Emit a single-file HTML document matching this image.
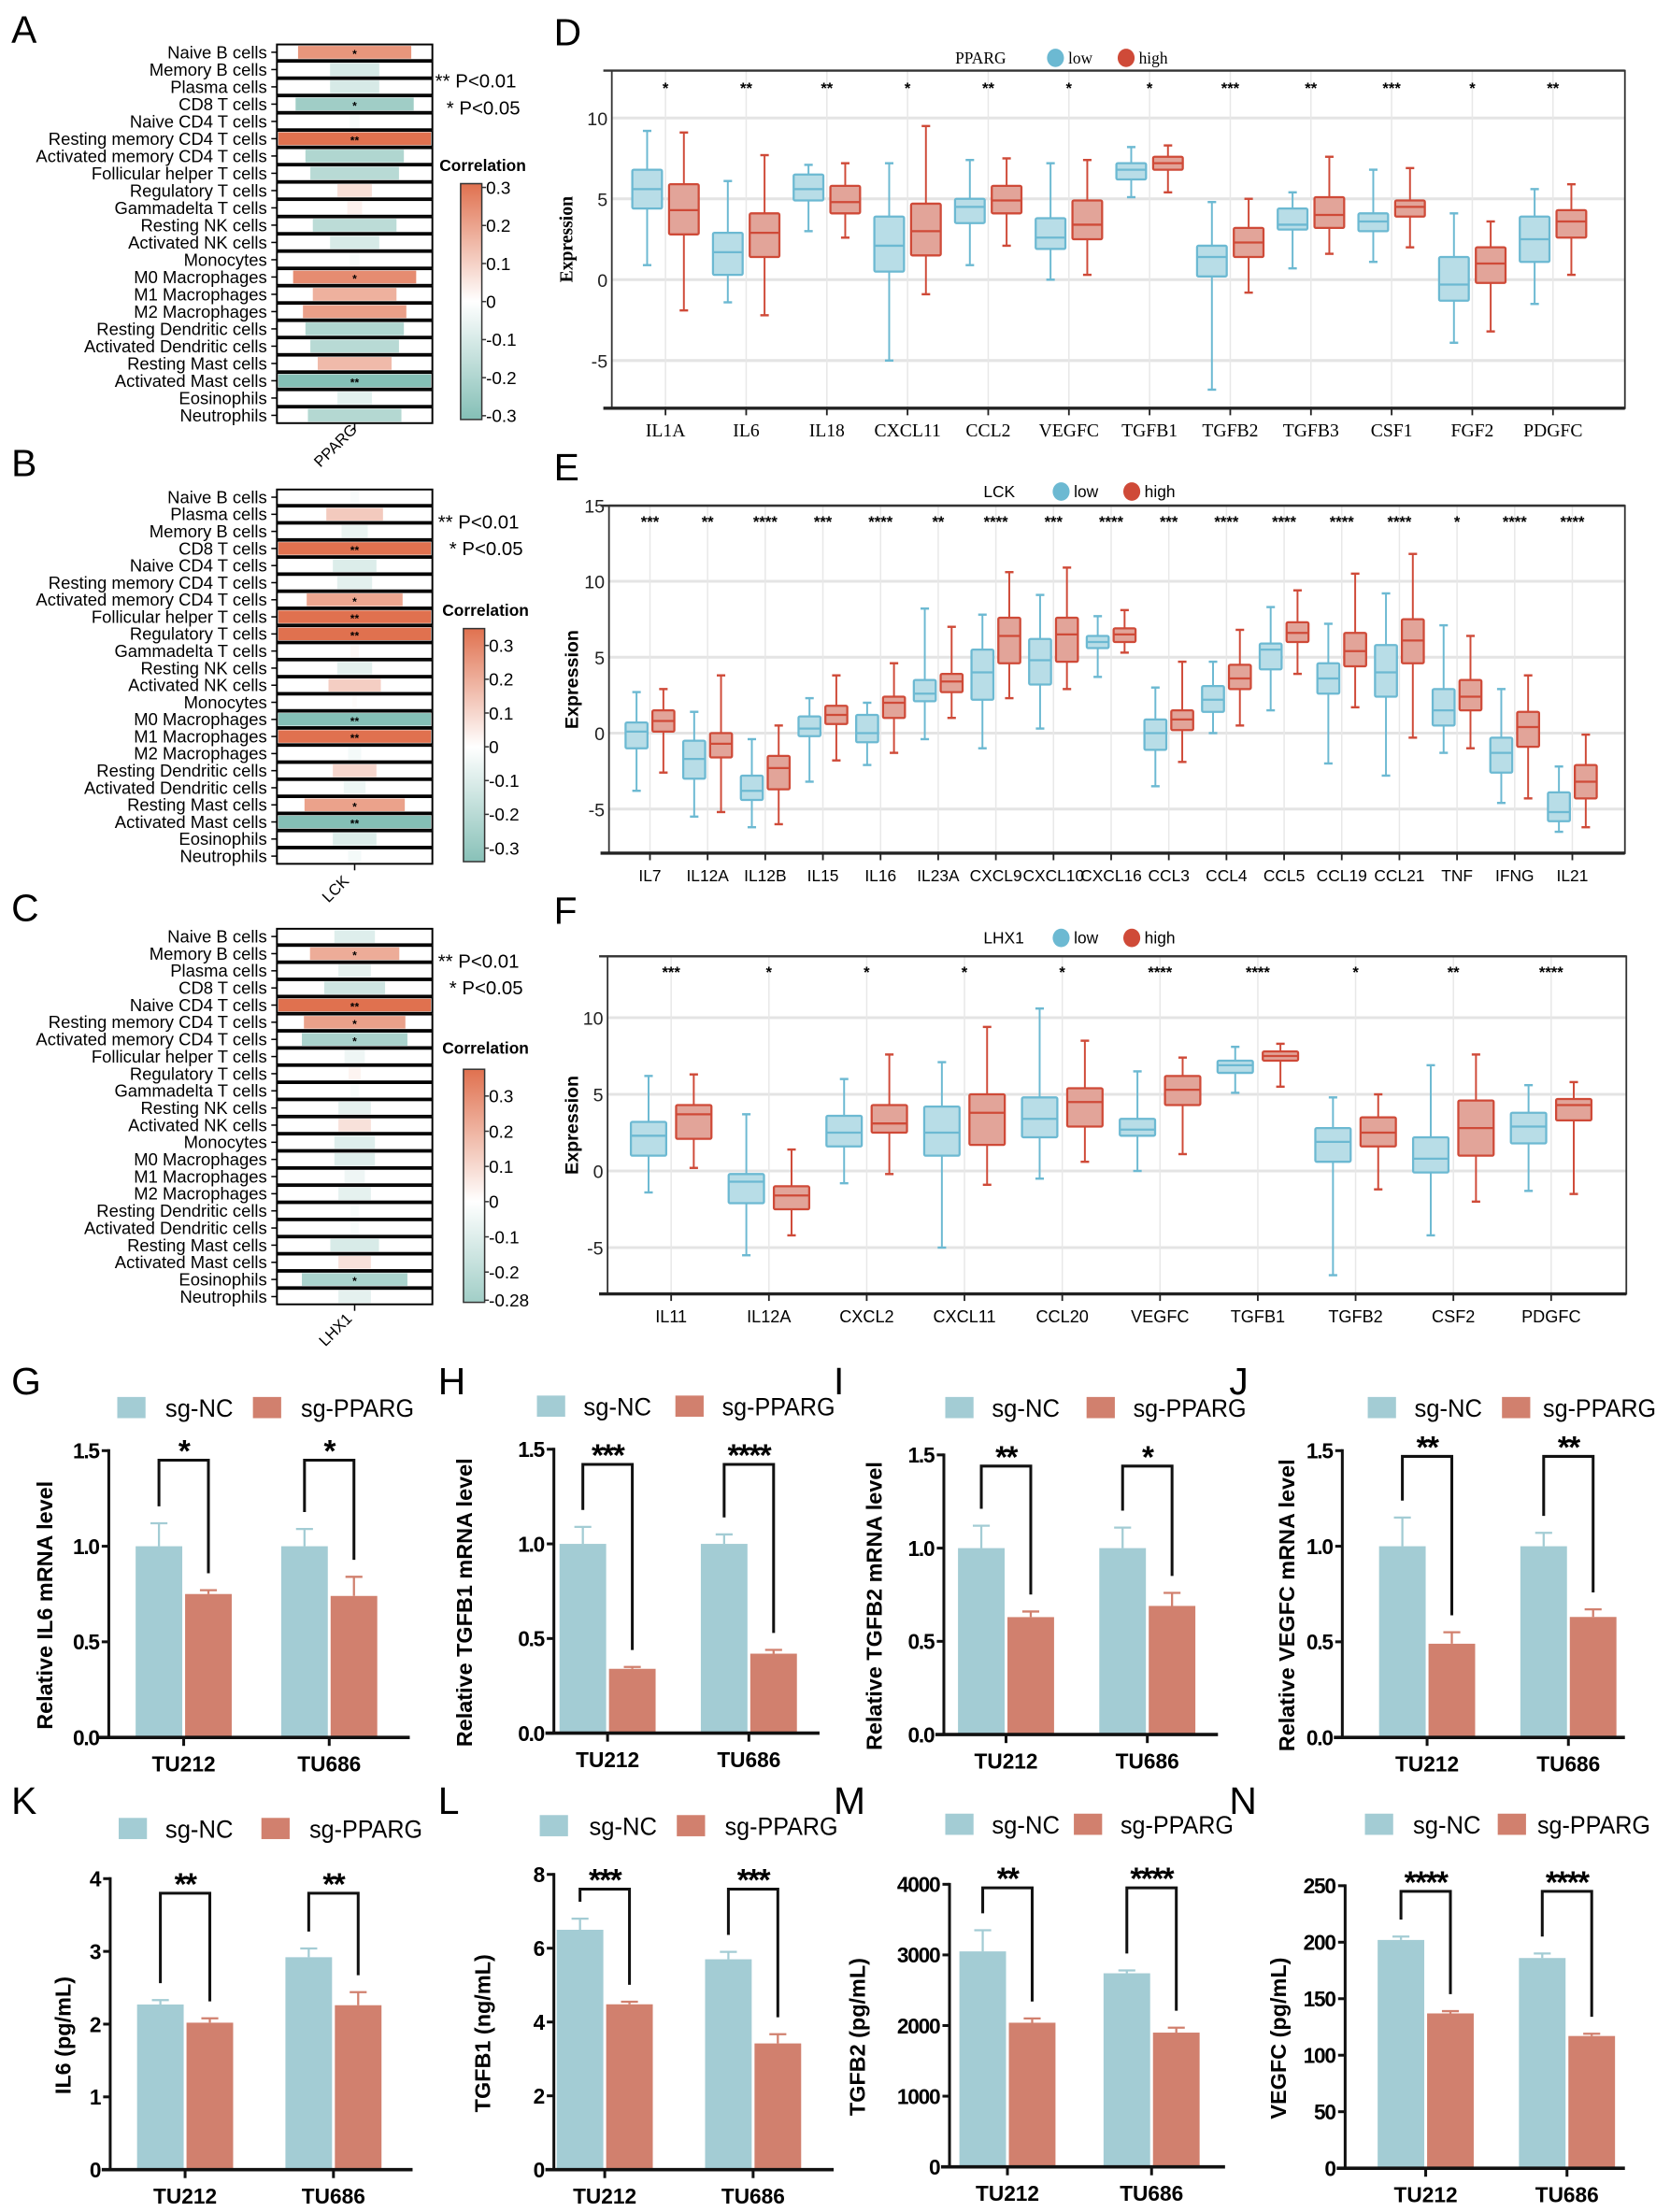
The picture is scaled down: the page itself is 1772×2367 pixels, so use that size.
<!DOCTYPE html>
<html>
<head>
<meta charset="utf-8">
<style>
html,body{margin:0;padding:0;background:#fff;}
svg{display:block;}
</style>
</head>
<body>
<svg id="fig" xmlns="http://www.w3.org/2000/svg" width="1772" height="2367" viewBox="0 0 1172 1566" preserveAspectRatio="none"></svg>
<script>
// ---------- Heatmap data ----------
const cellTypesA = ["Naive B cells","Memory B cells","Plasma cells","CD8 T cells","Naive CD4 T cells","Resting memory CD4 T cells","Activated memory CD4 T cells","Follicular helper T cells","Regulatory T cells","Gammadelta T cells","Resting NK cells","Activated NK cells","Monocytes","M0 Macrophages","M1 Macrophages","M2 Macrophages","Resting Dendritic cells","Activated Dendritic cells","Resting Mast cells","Activated Mast cells","Eosinophils","Neutrophils"];
const corrA = [0.23,-0.1,-0.1,-0.24,-0.02,0.31,-0.2,-0.18,0.07,0.03,-0.17,-0.1,-0.02,0.25,0.17,0.21,-0.2,-0.18,0.15,-0.31,-0.07,-0.19];
const sigA = ["*","","","*","","**","","","","","","","","*","","","","","","**","",""];
const cellTypesB = ["Naive B cells","Plasma cells","Memory B cells","CD8 T cells","Naive CD4 T cells","Resting memory CD4 T cells","Activated memory CD4 T cells","Follicular helper T cells","Regulatory T cells","Gammadelta T cells","Resting NK cells","Activated NK cells","Monocytes","M0 Macrophages","M1 Macrophages","M2 Macrophages","Resting Dendritic cells","Activated Dendritic cells","Resting Mast cells","Activated Mast cells","Eosinophils","Neutrophils"];
const corrB = [-0.02,0.13,-0.06,0.35,-0.1,-0.08,0.22,0.35,0.35,0.02,-0.08,0.12,0.01,-0.35,0.35,-0.03,0.1,-0.05,0.23,-0.35,-0.1,-0.03];
const sigB = ["","","","**","","","*","**","**","","","","","**","**","","","","*","**","",""];
const cellTypesC = cellTypesA.slice();
const corrC = [-0.1,0.22,-0.08,-0.15,0.376,0.25,-0.26,-0.05,0.03,-0.02,-0.08,0.08,-0.1,-0.1,-0.05,-0.08,-0.02,-0.02,-0.12,0.08,-0.26,-0.08];
const sigC = ["","*","","","**","*","*","","","","","","","","","","","","","","*",""];
const cbTicksA = [0.3,0.2,0.1,0,-0.1,-0.2,-0.3];
const cbTicksB = [0.3,0.2,0.1,0,-0.1,-0.2,-0.3];
const cbTicksC = [0.3,0.2,0.1,0,-0.1,-0.2,-0.28];

// ---------- Box plot data: [whiskerLow, q1, median, q3, whiskerHigh] ----------
const genesD = ["IL1A","IL6","IL18","CXCL11","CCL2","VEGFC","TGFB1","TGFB2","TGFB3","CSF1","FGF2","PDGFC"];
const lowD = [[0.9,4.4,5.6,6.8,9.2],[-1.4,0.3,1.7,2.9,6.1],[3.0,4.9,5.6,6.5,7.1],[-5.0,0.5,2.1,3.9,7.2],[0.9,3.5,4.5,5.0,7.4],[0,1.9,2.6,3.8,7.2],[5.1,6.2,6.8,7.2,8.2],[-6.8,0.2,1.4,2.1,4.8],[0.7,3.1,3.4,4.4,5.4],[1.1,3.0,3.6,4.1,6.8],[-3.9,-1.3,-0.3,1.4,4.1],[-1.5,1.1,2.5,3.9,5.6]];
const highD = [[-1.9,2.8,4.3,5.9,9.1],[-2.2,1.4,2.9,4.1,7.7],[2.6,4.1,4.8,5.8,7.2],[-0.9,1.5,3.0,4.7,9.5],[2.1,4.1,4.9,5.8,7.5],[0.3,2.5,3.4,4.9,7.4],[5.4,6.8,7.2,7.6,8.3],[-0.8,1.4,2.3,3.2,5.0],[1.6,3.2,4.0,5.1,7.6],[2.0,3.9,4.5,4.9,6.9],[-3.2,-0.2,1.0,2.0,3.6],[0.3,2.6,3.6,4.3,5.9]];
const sigD = ["*","**","**","*","**","*","*","***","**","***","*","**"];
const ticksD = [10,5,0,-5];

const genesE = ["IL7","IL12A","IL12B","IL15","IL16","IL23A","CXCL9","CXCL10","CXCL16","CCL3","CCL4","CCL5","CCL19","CCL21","TNF","IFNG","IL21"];
const lowE = [[-3.8,-1.0,0.1,0.7,2.7],[-5.5,-3.0,-1.7,-0.5,1.4],[-6.2,-4.4,-3.8,-2.8,-0.4],[-3.2,-0.2,0.3,1.1,2.3],[-2.1,-0.6,0,1.2,2.0],[-0.4,2.1,2.6,3.5,8.2],[-1.0,2.2,4.0,5.5,7.8],[0.3,3.2,4.8,6.2,9.1],[3.7,5.6,6.0,6.4,7.7],[-3.5,-1.1,0,0.9,3.0],[0,1.4,2.2,3.1,4.7],[1.5,4.2,5.5,5.9,8.3],[-2.0,2.6,3.6,4.6,7.2],[-2.8,2.4,4.0,5.8,9.2],[-1.3,0.5,1.5,2.9,7.1],[-4.6,-2.6,-1.3,-0.3,2.9],[-6.5,-5.8,-5.2,-3.9,-2.2]];
const highE = [[-2.6,0.1,0.8,1.5,2.9],[-5.2,-1.6,-0.7,0,3.8],[-6.0,-3.7,-2.3,-1.5,0.5],[-1.8,0.6,1.2,1.8,3.8],[-1.3,1.0,2.0,2.4,4.6],[1.0,2.7,3.4,3.9,7.0],[2.3,4.6,6.4,7.6,10.6],[2.9,4.7,6.5,7.6,10.9],[5.3,6.0,6.5,6.9,8.1],[-1.9,0.2,0.9,1.5,4.7],[0.5,2.9,3.6,4.5,6.8],[3.9,6.0,6.6,7.3,9.4],[1.7,4.4,5.4,6.6,10.5],[-0.3,4.6,6.1,7.5,11.8],[-1.0,1.5,2.4,3.5,6.4],[-4.3,-0.9,0.4,1.4,3.8],[-6.2,-4.3,-3.2,-2.1,-0.1]];
const sigE = ["***","**","****","***","****","**","****","***","****","***","****","****","****","****","*","****","****"];
const ticksE = [15,10,5,0,-5];

const genesF = ["IL11","IL12A","CXCL2","CXCL11","CCL20","VEGFC","TGFB1","TGFB2","CSF2","PDGFC"];
const lowF = [[-1.4,1.0,2.3,3.2,6.2],[-5.5,-2.1,-0.7,-0.2,3.7],[-0.8,1.6,2.5,3.6,6.0],[-5.0,1.0,2.5,4.2,7.1],[-0.5,2.2,3.4,4.8,10.6],[0,2.3,2.7,3.4,6.5],[5.1,6.4,6.9,7.2,8.1],[-6.8,0.6,1.9,2.8,4.8],[-4.2,-0.1,0.8,2.2,6.9],[-1.3,1.8,2.9,3.8,5.6]];
const highF = [[0.2,2.1,3.7,4.3,6.3],[-4.2,-2.5,-1.6,-1.0,1.4],[-0.2,2.5,3.1,4.3,7.6],[-0.9,1.7,3.8,5.0,9.4],[0.6,2.9,4.5,5.4,8.5],[1.1,4.3,5.3,6.2,7.4],[5.5,7.2,7.5,7.8,8.3],[-1.2,1.6,2.5,3.5,5.0],[-2.0,1.0,2.8,4.6,7.6],[-1.5,3.3,4.3,4.7,5.8]];
const sigF = ["***","*","*","*","*","****","****","*","**","****"];
const ticksF = [10,5,0,-5];

// ---------- Bar chart data ----------
const lines = ["TU212","TU686"];
const ncG = [1.0,1.0], ncErrG = [0.12,0.09], ppG = [0.75,0.74], ppErrG = [0.02,0.10], sigG = ["*","*"];
const ncH = [1.0,1.0], ncErrH = [0.09,0.05], ppH = [0.34,0.42], ppErrH = [0.01,0.02], sigH = ["***","****"];
const ncI = [1.0,1.0], ncErrI = [0.12,0.11], ppI = [0.63,0.69], ppErrI = [0.03,0.07], sigI = ["**","*"];
const ncJ = [1.0,1.0], ncErrJ = [0.15,0.07], ppJ = [0.49,0.63], ppErrJ = [0.06,0.04], sigJ = ["**","**"];
const ncK = [2.27,2.92], ncErrK = [0.06,0.12], ppK = [2.02,2.26], ppErrK = [0.06,0.18], sigK = ["**","**"];
const ncL = [6.5,5.7], ncErrL = [0.3,0.2], ppL = [4.48,3.42], ppErrL = [0.07,0.25], sigL = ["***","***"];
const ncM = [3050,2740], ncErrM = [300,40], ppM = [2040,1900], ppErrM = [60,70], sigM = ["**","****"];
const ncN = [202,186], ncErrN = [3,4], ppN = [137,117], ppErrN = [2,2], sigN = ["****","****"];
const ticksMRNA = [0,0.5,1.0,1.5];
const ticksK = [0,1,2,3,4];
const ticksL = [0,2,4,6,8];
const ticksM = [0,1000,2000,3000,4000];
const ticksN = [0,50,100,150,200,250];

// ---------- helpers ----------
const NS = "http://www.w3.org/2000/svg";
const svg = document.getElementById("fig");
const SANS = '"Liberation Sans", Arial, sans-serif';
const SERIF = '"Liberation Serif", "Times New Roman", serif';
function mk(tag, attrs, parent){
  const e = document.createElementNS(NS, tag);
  for (const k in attrs) e.setAttribute(k, attrs[k]);
  (parent || svg).appendChild(e);
  return e;
}
function tx(x, y, s, o, parent){
  const e = mk("text", Object.assign({x:x, y:y, "font-size":12, "font-family":SANS, fill:"#000"}, o || {}), parent);
  e.textContent = s;
  return e;
}
function grp(name){
  const g = mk("g", {});
  
  
  return g;
}
function mix(a, b, t){
  const pa = [parseInt(a.substr(1,2),16),parseInt(a.substr(3,2),16),parseInt(a.substr(5,2),16)];
  const pb = [parseInt(b.substr(1,2),16),parseInt(b.substr(3,2),16),parseInt(b.substr(5,2),16)];
  return "rgb(" + pa.map((v,i)=>Math.round(v+(pb[i]-v)*t)).join(",") + ")";
}
function corrColor(r, m){
  const t = Math.max(-1, Math.min(1, r / m));
  return t >= 0 ? mix("#ffffff", "#e0714f", t) : mix("#ffffff", "#84bfb6", -t);
}

// ---------- panel letters ----------
const letters = [["A",8,30],["D",392,32],["B",8,337],["E",392,340],["C",8,652],["F",392,654],["G",8,987],["H",310,987],["I",590,987],["J",870,987],["K",8,1284],["L",310,1284],["M",590,1284],["N",870,1284]];
letters.forEach(function(l){
  const t = tx(l[1], l[2], l[0], {"font-size":27});
  
  
});

// ---------- heatmaps ----------
function heat(p){
  const g = grp(p.name);
  const x0 = p.x0, w = p.x1 - p.x0;
  p.types.forEach(function(name, i){
    const cy = p.y0 + i * p.step;
    const cell = mk("rect", {x:x0, y:cy - p.step/2 + 0.6, width:w, height:p.step - 1.2, fill:"#fff", stroke:"#000", "stroke-width":1.3}, g);
    
    
    const r = p.corr[i];
    const bw = Math.min(1, Math.abs(r) / p.wmax) * (w - 2);
    const bar = mk("rect", {x:x0 + w/2 - bw/2, y:cy - p.step/2 + 1.6, width:bw, height:p.step - 3.2, fill:corrColor(r, p.cmax)}, g);
    
    
    const tk = mk("line", {x1:x0 - 4, x2:x0, y1:cy, y2:cy, stroke:"#000", "stroke-width":1}, g);
    
    
    const lb = tx(x0 - 7, cy + 4.2, name, {"text-anchor":"end", "font-size":12.2}, g);
    
    
    if (p.sig[i]) {
      const s = tx(x0 + w/2, cy + 4, p.sig[i], {"text-anchor":"middle", "font-size":8, "font-weight":"bold"}, g);
      
      
    }
  });
  const bottom = p.y0 + (p.types.length - 0.5) * p.step;
  const bt = mk("line", {x1:x0 + w/2, x2:x0 + w/2, y1:bottom, y2:bottom + 4, stroke:"#000", "stroke-width":1}, g);
  
  
  const gl = tx(p.geneX, p.geneY, p.gene, {"text-anchor":"middle", "font-size":11, transform:"rotate(-45 " + p.geneX + " " + p.geneY + ")"}, g);
  
  
  const l1 = tx(p.legX, p.legY, "** P<0.01", {"font-size":13.5}, g);
  
  
  const l2 = tx(p.legX + 8, p.legY + 19, "* P<0.05", {"font-size":13.5}, g);
  
  
  const ct = tx(p.cb.x - 15, p.cb.titleY, "Correlation", {"font-size":11.5, "font-weight":"bold"}, g);
  
  
  const gid = "grad-" + p.name;
  const defs = mk("defs", {}, g);
  const lg = mk("linearGradient", {id:gid, x1:0, y1:0, x2:0, y2:1}, defs);
  const zeroFrac = p.cb.vtop / (p.cb.vtop - p.cb.vbot);
  mk("stop", {offset:0, "stop-color":corrColor(p.cb.vtop, p.cmax)}, lg);
  mk("stop", {offset:zeroFrac, "stop-color":"#ffffff"}, lg);
  mk("stop", {offset:1, "stop-color":corrColor(p.cb.vbot, p.cmax)}, lg);
  const cb = mk("rect", {x:p.cb.x, y:p.cb.top, width:15, height:p.cb.bot - p.cb.top, fill:"url(#" + gid + ")", stroke:"#333", "stroke-width":1}, g);
  
  
  const cy = function(v){ return p.cb.top + (p.cb.vtop - v) / (p.cb.vtop - p.cb.vbot) * (p.cb.bot - p.cb.top); };
  p.cb.ticks.forEach(function(v){
    const yy = cy(v);
    const t1 = mk("line", {x1:p.cb.x + 15, x2:p.cb.x + 18, y1:yy, y2:yy, stroke:"#333", "stroke-width":1}, g);
    
    
    const t2 = tx(p.cb.x + 18, yy + 4.5, String(v), {"font-size":12.5}, g);
    
    
  });
}
heat({name:"heatmap-pparg", types:cellTypesA, corr:corrA, sig:sigA, x0:196, x1:306, y0:37, step:12.24, wmax:0.31, cmax:0.31, gene:"PPARG", geneX:240, geneY:318, legX:308, legY:62, cb:{x:326, top:130, bot:297, vtop:0.31, vbot:-0.31, ticks:cbTicksA, titleY:121}});
heat({name:"heatmap-lck", types:cellTypesB, corr:corrB, sig:sigB, x0:196, x1:306, y0:352, step:12.1, wmax:0.35, cmax:0.35, gene:"LCK", geneX:240, geneY:632, legX:310, legY:374, cb:{x:328, top:445, bot:610, vtop:0.35, vbot:-0.34, ticks:cbTicksB, titleY:436}});
heat({name:"heatmap-lhx1", types:cellTypesC, corr:corrC, sig:sigC, x0:196, x1:306, y0:663, step:12.14, wmax:0.376, cmax:0.376, gene:"LHX1", geneX:240, geneY:944, legX:310, legY:685, cb:{x:328, top:757, bot:922, vtop:0.376, vbot:-0.286, ticks:cbTicksC, titleY:746}});

// ---------- box plots ----------
function boxes(p){
  const g = grp(p.name);
  const Y = function(v){ return p.yZero - v * p.ppu; };
  const X = function(i){ return p.cx0 + i * p.cstep; };
  p.ticks.forEach(function(v){
    const gl = mk("line", {x1:p.fx0, x2:p.fx1, y1:Y(v), y2:Y(v), stroke:"#e4e4e4", "stroke-width":2}, g);
    
    
    const tl = tx(p.fx0 - 3, Y(v) + 5, String(v), {"text-anchor":"end", "font-size":13, fill:"#222"}, g);
    
    
  });
  p.genes.forEach(function(gname, i){
    const vg = mk("line", {x1:X(i), x2:X(i), y1:p.fy0, y2:p.fy1, stroke:"#e8e8e8", "stroke-width":1}, g);
    
    
  });
  const fr = mk("rect", {x:p.fx0, y:p.fy0, width:p.fx1 - p.fx0, height:p.fy1 - p.fy0, fill:"none", stroke:"#333", "stroke-width":1.2}, g);
  
  
  const ax = mk("line", {x1:p.fx0 - 6, x2:p.fx1, y1:p.fy1, y2:p.fy1, stroke:"#222", "stroke-width":2.2}, g);
  
  
  const tp = mk("line", {x1:p.fx0 - 6, x2:p.fx1, y1:p.fy0, y2:p.fy0, stroke:"#333", "stroke-width":1.6}, g);
  
  
  function drawBox(d, cx, fill, stroke, nm){
    const hw = p.bw / 2;
    const wl = mk("line", {x1:cx, x2:cx, y1:Y(d[0]), y2:Y(d[4]), stroke:stroke, "stroke-width":1.3}, g);
    
    
    [d[0], d[4]].forEach(function(v){
      const cap = mk("line", {x1:cx - 3, x2:cx + 3, y1:Y(v), y2:Y(v), stroke:stroke, "stroke-width":1.6}, g);
      
      
    });
    const bx = mk("rect", {x:cx - hw, y:Y(d[3]), width:p.bw, height:Y(d[1]) - Y(d[3]), fill:fill, stroke:stroke, "stroke-width":1.5, rx:1}, g);
    
    
    const md = mk("line", {x1:cx - hw, x2:cx + hw, y1:Y(d[2]), y2:Y(d[2]), stroke:stroke, "stroke-width":1.5}, g);
    
    
  }
  p.genes.forEach(function(gname, i){
    drawBox(p.low[i], X(i) - p.off, "#b8dde7", "#6cb9d2", "low");
    drawBox(p.high[i], X(i) + p.off, "#e2a499", "#cf4a38", "high");
    const st = tx(X(i), p.sigY, p.sig[i], {"text-anchor":"middle", "font-size":11, "font-weight":"bold"}, g);
    
    
    const tk = mk("line", {x1:X(i), x2:X(i), y1:p.fy1, y2:p.fy1 + 5, stroke:"#222", "stroke-width":1.2}, g);
    
    
    const cl = tx(X(i), p.fy1 + 20, gname, {"text-anchor":"middle", "font-size":p.catSize, "font-family":p.font}, g);
    
    
  });
  const yt = tx(p.ytX, (p.fy0 + p.fy1)/2, "Expression", {"text-anchor":"middle", "font-size":13, "font-weight":"bold", "font-family":p.font, transform:"rotate(-90 " + p.ytX + " " + (p.fy0 + p.fy1)/2 + ")"}, g);
  
  
  const lg1 = tx(p.legX, p.legY, p.gene, {"font-size":11.5, "font-family":p.font}, g);
  
  
  const c1 = mk("ellipse", {cx:p.legX + p.legGap, cy:p.legY - 4, rx:6, ry:6.5, fill:"#6cb9d2"}, g);
  
  
  const t1 = tx(p.legX + p.legGap + 9, p.legY, "low", {"font-size":11.5, "font-family":p.font}, g);
  
  
  const c2 = mk("ellipse", {cx:p.legX + p.legGap + 50, cy:p.legY - 4, rx:6, ry:6.5, fill:"#cf4a38"}, g);
  
  
  const t2 = tx(p.legX + p.legGap + 59, p.legY, "high", {"font-size":11.5, "font-family":p.font}, g);
  
  
}
boxes({name:"boxplot-pparg", genes:genesD, low:lowD, high:highD, sig:sigD, ticks:ticksD, yZero:198, ppu:11.45, fx0:433, fx1:1150, fy0:50, fy1:289, cx0:471, cstep:57.1, bw:21, off:13, sigY:66, font:SERIF, catSize:13, ytX:405, gene:"PPARG", legX:676, legY:45, legGap:71});
boxes({name:"boxplot-lck", genes:genesE, low:lowE, high:highE, sig:sigE, ticks:ticksE, yZero:519, ppu:10.75, fx0:431, fx1:1150, fy0:358, fy1:604, cx0:460, cstep:40.8, bw:15.5, off:9.5, sigY:373, font:SANS, catSize:11.5, ytX:409, gene:"LCK", legX:696, legY:352, legGap:55});
boxes({name:"boxplot-lhx1", genes:genesF, low:lowF, high:highF, sig:sigF, ticks:ticksF, yZero:829, ppu:10.85, fx0:430, fx1:1151, fy0:677, fy1:916, cx0:475, cstep:69.2, bw:25, off:16, sigY:692, font:SANS, catSize:12, ytX:409, gene:"LHX1", legX:696, legY:668, legGap:55});

// ---------- bar charts ----------
function bars(p){
  const g = grp(p.name);
  const Y = function(v){ return p.y0 - v / p.vmax * (p.y0 - p.yTop); };
  const yl = mk("line", {x1:p.ax, x2:p.ax, y1:p.yTop - 1, y2:p.y0, stroke:"#111", "stroke-width":2}, g);
  
  
  p.ticks.forEach(function(v, i){
    const t = mk("line", {x1:p.ax - 5, x2:p.ax, y1:Y(v), y2:Y(v), stroke:"#111", "stroke-width":2}, g);
    
    
    const l = tx(p.ax - 7, Y(v) + 5.5, p.tickLabels[i], {"text-anchor":"end", "font-size":15, "font-weight":"bold", "letter-spacing":-0.8}, g);
    
    
  });
  const bw = 33;
  for (let i = 0; i < 2; i++) {
    const cx = p.cats[i];
    const ncX = cx - bw - 1, ppX = cx + 1;
    const b1 = mk("rect", {x:ncX, y:Y(p.nc[i]), width:bw, height:p.y0 - Y(p.nc[i]), fill:"#a3ccd4"}, g);
    
    
    const b2 = mk("rect", {x:ppX, y:Y(p.pp[i]), width:bw, height:p.y0 - Y(p.pp[i]), fill:"#d1806e"}, g);
    
    
    const e1 = mk("path", {d:"M" + (ncX + bw/2) + " " + Y(p.nc[i]) + "V" + Y(p.nc[i] + p.ncErr[i]) + "M" + (ncX + bw/2 - 6) + " " + Y(p.nc[i] + p.ncErr[i]) + "h12", stroke:"#a3ccd4", "stroke-width":1.5, fill:"none"}, g);
    
    
    const e2 = mk("path", {d:"M" + (ppX + bw/2) + " " + Y(p.pp[i]) + "V" + Y(p.pp[i] + p.ppErr[i]) + "M" + (ppX + bw/2 - 6) + " " + Y(p.pp[i] + p.ppErr[i]) + "h12", stroke:"#d1806e", "stroke-width":1.5, fill:"none"}, g);
    
    
    const by = Y(p.bracket);
    const lx = ncX + bw/2, rx = ppX + bw/2;
    const br = mk("path", {d:"M" + lx + " " + (Y(p.nc[i] + p.ncErr[i]) - 12) + "V" + by + "H" + rx + "V" + (Y(p.pp[i] + p.ppErr[i]) - 12), stroke:"#111", "stroke-width":2, fill:"none"}, g);
    
    
    const st = tx(cx, by + 1, p.sig[i], {"text-anchor":"middle", "font-size":22, "font-weight":"bold", "letter-spacing":-1}, g);
    
    
    const xt = mk("line", {x1:cx, x2:cx, y1:p.y0, y2:p.y0 + 6, stroke:"#111", "stroke-width":2}, g);
    
    
    const xl = tx(cx, p.y0 + 24, lines[i], {"text-anchor":"middle", "font-size":15, "font-weight":"bold"}, g);
    
    
  }
  const xa = mk("line", {x1:p.xa0, x2:p.xa1, y1:p.y0, y2:p.y0, stroke:"#111", "stroke-width":2.4}, g);
  
  
  const ymid = (p.yTop + p.y0) / 2 + 8;
  const yt = tx(p.ytX, ymid, p.title, {"text-anchor":"middle", "font-size":15.5, "font-weight":"bold", transform:"rotate(-90 " + p.ytX + " " + ymid + ")"}, g);
  
  
  const s1 = mk("rect", {x:p.sq[0], y:p.legY - 13, width:20, height:15, fill:"#a3ccd4"}, g);
  
  
  const l1 = tx(p.lt[0], p.legY + 1, "sg-NC", {"font-size":17.5, textLength:48, lengthAdjust:"spacingAndGlyphs"}, g);
  
  
  const s2 = mk("rect", {x:p.sq[1], y:p.legY - 13, width:20, height:15, fill:"#d1806e"}, g);
  
  
  const l2 = tx(p.lt[1], p.legY + 1, "sg-PPARG", {"font-size":17.5, textLength:80, lengthAdjust:"spacingAndGlyphs"}, g);
  
  
}
const mrnaLabels = ["0.0","0.5","1.0","1.5"];
bars({name:"bar-il6-mrna", nc:ncG, ncErr:ncErrG, pp:ppG, ppErr:ppErrG, sig:sigG, ticks:ticksMRNA, tickLabels:mrnaLabels, vmax:1.5, ax:77, y0:1230, yTop:1027, xa0:70, xa1:290, cats:[130,233], bracket:1.45, title:"Relative IL6 mRNA level", ytX:37, legY:1002, sq:[83,179], lt:[117,213]});
bars({name:"bar-tgfb1-mrna", nc:ncH, ncErr:ncErrH, pp:ppH, ppErr:ppErrH, sig:sigH, ticks:ticksMRNA, tickLabels:mrnaLabels, vmax:1.5, ax:392, y0:1227, yTop:1026, xa0:386, xa1:580, cats:[430,530], bracket:1.42, title:"Relative TGFB1 mRNA level", ytX:334, legY:1001, sq:[380,478], lt:[413,511]});
bars({name:"bar-tgfb2-mrna", nc:ncI, ncErr:ncErrI, pp:ppI, ppErr:ppErrI, sig:sigI, ticks:ticksMRNA, tickLabels:mrnaLabels, vmax:1.5, ax:668, y0:1228, yTop:1030, xa0:662, xa1:862, cats:[712,812], bracket:1.44, title:"Relative TGFB2 mRNA level", ytX:624, legY:1002, sq:[669,769], lt:[702,802]});
bars({name:"bar-vegfc-mrna", nc:ncJ, ncErr:ncErrJ, pp:ppJ, ppErr:ppErrJ, sig:sigJ, ticks:ticksMRNA, tickLabels:mrnaLabels, vmax:1.5, ax:950, y0:1230, yTop:1027, xa0:944, xa1:1150, cats:[1010,1110], bracket:1.47, title:"Relative VEGFC mRNA level", ytX:916, legY:1002, sq:[968,1063], lt:[1001,1092]});
bars({name:"bar-il6-protein", nc:ncK, ncErr:ncErrK, pp:ppK, ppErr:ppErrK, sig:sigK, ticks:ticksK, tickLabels:ticksK.map(String), vmax:4, ax:78, y0:1536, yTop:1330, xa0:72, xa1:292, cats:[131,236], bracket:3.8, title:"IL6 (pg/mL)", ytX:50, legY:1300, sq:[84,185], lt:[117,219]});
bars({name:"bar-tgfb1-protein", nc:ncL, ncErr:ncErrL, pp:ppL, ppErr:ppErrL, sig:sigL, ticks:ticksL, tickLabels:ticksL.map(String), vmax:8, ax:392, y0:1536, yTop:1327, xa0:386, xa1:590, cats:[428,533], bracket:7.6, title:"TGFB1 (ng/mL)", ytX:347, legY:1298, sq:[382,479], lt:[417,513]});
bars({name:"bar-tgfb2-protein", nc:ncM, ncErr:ncErrM, pp:ppM, ppErr:ppErrM, sig:sigM, ticks:ticksM, tickLabels:ticksM.map(String), vmax:4000, ax:672, y0:1534, yTop:1334, xa0:666, xa1:867, cats:[713,815], bracket:3950, title:"TGFB2 (pg/mL)", ytX:612, legY:1297, sq:[669,760], lt:[702,793]});
bars({name:"bar-vegfc-protein", nc:ncN, ncErr:ncErrN, pp:ppN, ppErr:ppErrN, sig:sigN, ticks:ticksN, tickLabels:ticksN.map(String), vmax:250, ax:952, y0:1535, yTop:1335, xa0:946, xa1:1150, cats:[1009,1109], bracket:245, title:"VEGFC (pg/mL)", ytX:910, legY:1297, sq:[966,1060], lt:[1000,1088]});
</script>
</body>
</html>
